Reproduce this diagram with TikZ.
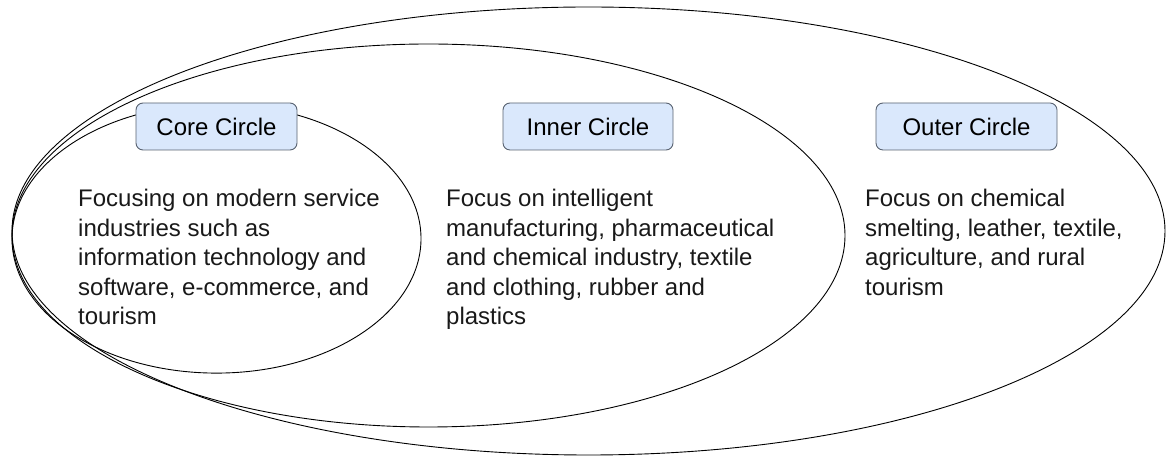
\documentclass[tikz,border=0pt]{standalone}
\usepackage{fontspec}
\setmainfont{Liberation Sans}
\usetikzlibrary{shapes.geometric}
\definecolor{boxfill}{HTML}{DAE8FC}
\definecolor{boxline}{RGB}{88,98,112}
\tikzset{
  ring/.style={ellipse, draw=black, line width=0.9pt, inner sep=0pt, fill=none},
  tag/.style={draw=boxline, fill=boxfill, rounded corners=7pt, line width=0.9pt,
    minimum height=47pt, inner sep=0pt, font=\fontsize{24}{29}\selectfont},
  body/.style={anchor=north west, align=left, inner sep=0pt,
    font=\fontsize{24}{29.5}\selectfont, text=black!90}
}
\begin{document}
\begin{tikzpicture}[x=1pt,y=1pt]
\useasboundingbox (0,0) rectangle (1166,457);
% ellipses (image y converted: 457 - y)
\node[ring, minimum width=1153pt, minimum height=448pt] (outer) at (588.5,226) {};
\node[ring, minimum width=833pt, minimum height=383pt] (inner) at (428.5,221.5) {};
\node[ring, minimum width=409pt, minimum height=269pt] (core) at (216.5,218.4) {};
% labels
\node[tag, minimum width=161pt] (coretag) at (216.5,330.5) {Core Circle};
\node[tag, minimum width=170pt] (innertag) at (588,330.5) {Inner Circle};
\node[tag, minimum width=181pt] (outertag) at (966.5,330.5) {Outer Circle};
% texts
\node[body] (coretext) at (78,268) {Focusing on modern service\\industries such as\\information technology and\\software, e-commerce, and\\tourism};
\node[body] (innertext) at (446,268) {Focus on intelligent\\manufacturing, pharmaceutical\\and chemical industry, textile\\and clothing, rubber and\\plastics};
\node[body] (outertext) at (865,268) {Focus on chemical\\smelting, leather, textile,\\agriculture, and rural\\tourism};
\end{tikzpicture}
\end{document}
